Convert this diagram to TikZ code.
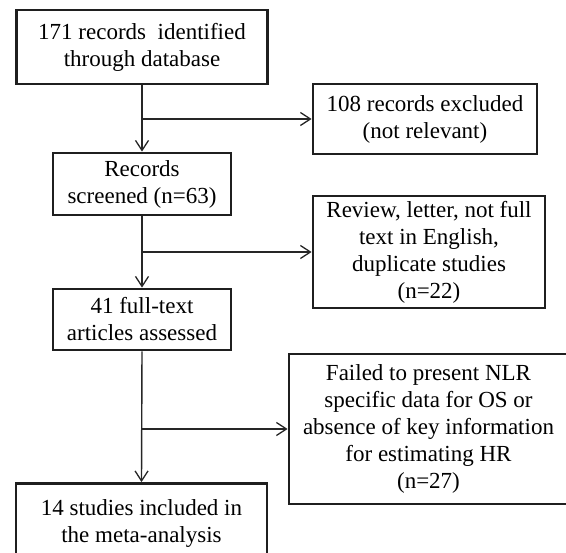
\documentclass[tikz,border=0pt]{standalone}
\usepackage{fontspec}
\setmainfont{Liberation Serif}
\usetikzlibrary{arrows.meta}
\begin{document}
\begin{tikzpicture}[x=1pt,y=-1pt,
  box/.style={draw=black!88, line width=2.8pt, align=center, inner sep=0pt,
    font=\fontsize{23}{27}\selectfont, fill=white},
  arr/.style={draw=black!85, line width=1.4pt, -{Straight Barb[length=10pt,width=13pt,line width=1.3pt]}}]
\useasboundingbox (0,0) rectangle (566,553);
\clip (0,0) rectangle (566,553);
\node[box, minimum width=251pt, minimum height=74pt] (b1) at (142,47) {171 records\ \ identified\\through database};
\node[box, minimum width=224pt, minimum height=70pt] (b3) at (425,119) {108 records excluded\\(not relevant)};
\node[box, minimum width=178pt, minimum height=62pt] (b2) at (142,184) {Records\\screened (n=63)};
\node[box, minimum width=232pt, minimum height=112pt] (b4) at (429,252) {Review, letter, not full\\text in English,\\duplicate studies\\(n=22)};
\node[box, minimum width=178pt, minimum height=61pt] (b5) at (142,319.5) {41 full-text\\articles assessed};
\node[box, minimum width=279pt, minimum height=150pt] (b6) at (428.5,429) {Failed to present NLR\\specific data for OS or\\absence of key information\\for estimating HR\\(n=27)};
\node[box, minimum width=251pt, minimum height=80pt] (b7) at (141.5,523.5) {14 studies included in\\the meta-analysis};
\draw[arr] (b1.south) -- (b2.north);
\draw[arr] (b2.south) -- (b5.north);
\draw[arr] (b5.south) -- (b7.north);
\draw[arr] (b1.south |- b3.west) -- (b3.west);
\draw[arr] (b2.south |- b4.west) -- (b4.west);
\draw[arr] (b5.south |- b6.west) -- (b6.west);
\end{tikzpicture}
\end{document}
